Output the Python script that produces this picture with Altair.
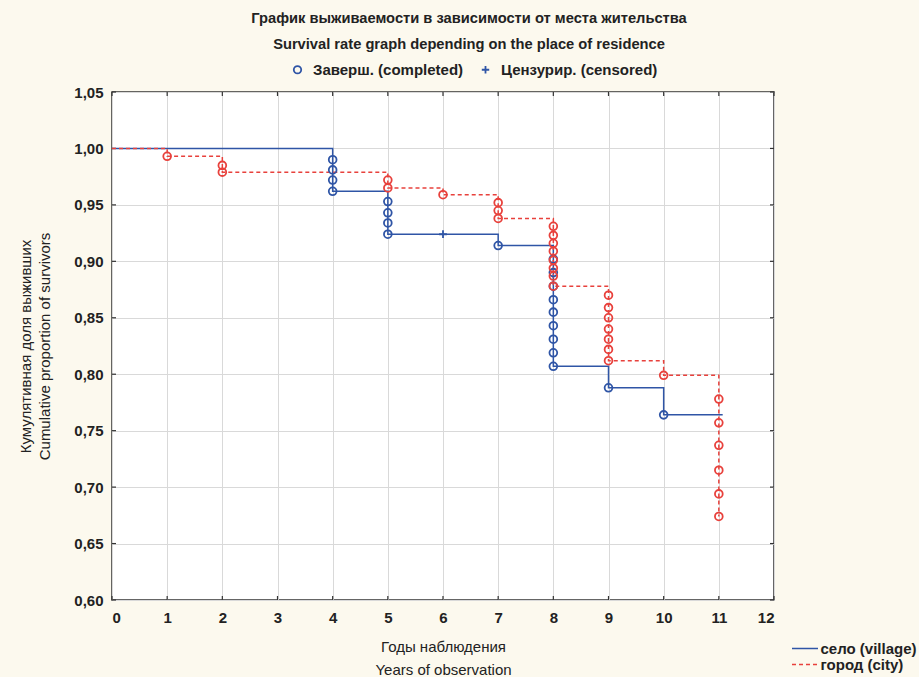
import altair as alt
import pandas as pd

# Kaplan-Meier step levels per group (time in years, cumulative survival)
village_step_t = [0, 4, 5, 7, 8, 9, 10, 11.07]
village_step_s = [1.0, 0.962, 0.924, 0.914, 0.807, 0.788, 0.764, 0.764]
city_step_t = [0, 1, 2, 5, 6, 7, 8, 9, 10, 11]
city_step_s = [1.0, 0.993, 0.979, 0.965, 0.959, 0.938, 0.878, 0.812, 0.799, 0.674]

# Completed (event) observations
village_event_t = [4, 4, 4, 4, 5, 5, 5, 5, 7,
                   8, 8, 8, 8, 8, 8, 8, 8, 8, 9, 10]
village_event_s = [0.990, 0.981, 0.972, 0.962, 0.953, 0.943, 0.934, 0.924, 0.914,
                   0.902, 0.890, 0.878, 0.866, 0.855, 0.843, 0.831, 0.819, 0.807,
                   0.788, 0.764]
city_event_t = [1, 2, 2, 5, 5, 6, 7, 7, 7,
                8, 8, 8, 8, 8, 8, 8, 8,
                9, 9, 9, 9, 9, 9, 9, 10,
                11, 11, 11, 11, 11, 11]
city_event_s = [0.993, 0.985, 0.979, 0.972, 0.965, 0.959, 0.952, 0.945, 0.938,
                0.931, 0.923, 0.916, 0.909, 0.901, 0.894, 0.887, 0.878,
                0.870, 0.859, 0.850, 0.840, 0.831, 0.822, 0.812, 0.799,
                0.778, 0.757, 0.737, 0.715, 0.694, 0.674]

# Censored observations
village_cens_t = [6]
village_cens_s = [0.924]

groups = ["село (village)", "город (city)"]
kinds = ["Заверш. (completed)", "Цензурир. (censored)"]
x_ticks = list(range(0, 13))
y_ticks = [0.60, 0.65, 0.70, 0.75, 0.80, 0.85, 0.90, 0.95, 1.00, 1.05]

BLUE = "#2f55a6"
RED = "#e8413c"
INK = "#222"
FONT = "Liberation Sans"
W, H = 662, 508

steps = pd.concat([
    pd.DataFrame({"t": village_step_t, "s": village_step_s, "group": groups[0], "o": 1}),
    pd.DataFrame({"t": city_step_t, "s": city_step_s, "group": groups[1], "o": 0}),
])
points = pd.concat([
    pd.DataFrame({"t": village_event_t, "s": village_event_s, "group": groups[0], "kind": kinds[0]}),
    pd.DataFrame({"t": village_cens_t, "s": village_cens_s, "group": groups[0], "kind": kinds[1]}),
    pd.DataFrame({"t": city_event_t, "s": city_event_s, "group": groups[1], "kind": kinds[0]}),
])
xt = pd.DataFrame({"t": x_ticks})
yt = pd.DataFrame({"s": y_ticks})

x_scale = alt.Scale(domain=[0, 12], nice=False, zero=False)
y_scale = alt.Scale(domain=[0.6, 1.05], nice=False, zero=False)

x_enc = alt.X("t:Q", scale=x_scale, axis=alt.Axis(
    values=x_ticks, format="d", title=["Годы наблюдения", "Years of observation"],
    labelPadding=10, titlePadding=14, titleLineHeight=23))
y_enc = alt.Y("s:Q", scale=y_scale, axis=alt.Axis(
    values=y_ticks, labelExpr="replace(format(datum.value, '.2f'), '.', ',')",
    title=["Кумулятивная доля выживших", "Cumulative proportion of survivors"],
    labelPadding=9, titlePadding=21, titleLineHeight=19))

group_color = alt.Scale(domain=groups, range=[BLUE, RED])


def group_legend():
    # line-sample legend in the lower right corner
    return alt.Legend(
        title=None, orient="none", legendX=685.5, legendY=549,
        symbolType="M-2,0L2,0", symbolSize=169, symbolStrokeWidth=1.5,
        labelFontSize=15, labelFontWeight="bold", rowPadding=0,
        labelOffset=8, padding=0, labelFont=FONT, labelColor=INK)


lines = alt.Chart(steps).mark_line(interpolate="step-after", strokeWidth=1.5).encode(
    x=x_enc, y=y_enc,
    color=alt.Color("group:N", scale=group_color, sort=groups, legend=group_legend()),
    strokeDash=alt.StrokeDash("group:N", sort=groups, legend=group_legend(),
                              scale=alt.Scale(domain=groups, range=[[1, 0], [4, 3]])),
    order=alt.Order("o:Q"),
    detail="group:N",
)

shape_scale = alt.Scale(domain=kinds, range=["circle", "M0,-1L0,1M-1,0L1,0"])
shape_legend = alt.Legend(
    title=None, orient="none", direction="horizontal", legendX=178, legendY=-30,
    symbolStrokeColor=BLUE, symbolStrokeWidth=1.8, symbolSize=55, symbolFillColor="transparent",
    labelFontSize=15, labelFontWeight="bold", labelFont=FONT, labelColor=INK,
    columnPadding=14, labelOffset=8, padding=0)


def point_layer(g):
    return alt.Chart(points).transform_filter(alt.datum.group == g).mark_point(
        filled=False, size=60, strokeWidth=1.8, opacity=1).encode(
        x="t:Q", y="s:Q",
        shape=alt.Shape("kind:N", scale=shape_scale, sort=kinds, legend=shape_legend),
        stroke=alt.Stroke("group:N", scale=group_color, legend=None),
    )


# inward tick marks on all four sides of the frame
tick_style = dict(color="#333", strokeWidth=1.2)
bottom_ticks = alt.Chart(xt).mark_rule(**tick_style).encode(
    x="t:Q", y=alt.value(H), y2=alt.value(H - 4))
top_ticks = alt.Chart(xt).mark_rule(**tick_style).encode(
    x="t:Q", y=alt.value(0), y2=alt.value(4))
left_ticks = alt.Chart(yt).mark_rule(**tick_style).encode(
    y="s:Q", x=alt.value(0), x2=alt.value(4))
right_ticks = alt.Chart(yt).mark_rule(**tick_style).encode(
    y="s:Q", x=alt.value(W), x2=alt.value(W - 4))

chart = alt.layer(
    bottom_ticks, top_ticks, left_ticks, right_ticks,
    lines, point_layer(groups[0]), point_layer(groups[1]),
).properties(
    width=W, height=H,
    title=alt.TitleParams(
        text=["График выживаемости в зависимости от места жительства",
              "Survival rate graph depending on the place of residence"],
        anchor="middle", fontSize=14.7, fontWeight="bold", font=FONT, color=INK,
        lineHeight=26, offset=10, dx=26),
    autosize=alt.AutoSizeParams(type="none"),
    padding={"left": 112, "top": 92, "right": 145, "bottom": 77},
    background="#fcf9ee",
).configure_view(
    fill="white", stroke="#333", strokeWidth=1.5,
).configure_axis(
    grid=True, gridColor="#d9d9d9", gridWidth=1, domain=False, ticks=False,
    labelFont=FONT, labelFontSize=15, labelFontWeight="bold", labelColor=INK,
    titleFont=FONT, titleFontSize=15, titleFontWeight="normal", titleColor=INK,
)

chart.save("out.html", embed_options={"renderer": "svg", "actions": False})
